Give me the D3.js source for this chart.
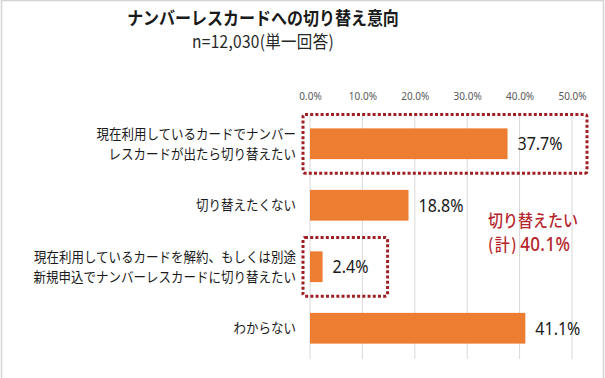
<!DOCTYPE html>
<html><head><meta charset="utf-8">
<script src="https://cdn.jsdelivr.net/npm/d3@7"></script>
<style>body{margin:0;background:#fff;}svg{display:block;font-family:"Noto Sans CJK JP","Noto Sans",sans-serif;}</style>
</head><body>
<svg id="c" width="605" height="378"></svg>
<script>
const title = "ナンバーレスカードへの切り替え意向";
const subtitle = "n=12,030(単一回答)";
const categories = [
  ["現在利用しているカードでナンバー","レスカードが出たら切り替えたい"],
  ["切り替えたくない"],
  ["現在利用しているカードを解約、もしくは別途","新規申込でナンバーレスカードに切り替えたい"],
  ["わからない"]
];
const values = [37.7, 18.8, 2.4, 41.1];
const ticks = [0, 10, 20, 30, 40, 50];
const annotationLine1 = "切り替えたい";
const annotationPrefix = "(計)";
const annotationValue = "40.1%";

const S = 1.12; // vertical glyph stretch seen in the reference
function stretch(sel, cy){ sel.attr("transform",`translate(0,${cy*(1-S)}) scale(1,${S})`); return sel; }

const svg = d3.select("#c");
svg.append("rect").attr("x",1.5).attr("y",0.5).attr("width",602).attr("height",390)
  .attr("fill","none").attr("stroke","#d4d4d4").attr("stroke-width",1.5);

const x = d3.scaleLinear().domain([0,50]).range([310,572]);
const y = d3.scaleBand().domain(d3.range(categories.length)).range([113,359]).paddingInner(0.5).paddingOuter(0.25);

stretch(svg.append("text").attr("x",263).attr("y",24).attr("text-anchor","middle")
  .attr("font-size",16).attr("font-weight","bold").attr("fill","#1a1a1a").text(title), 18);
stretch(svg.append("text").attr("x",263).attr("y",47).attr("text-anchor","middle")
  .attr("font-size",15.5).attr("letter-spacing",0.3).attr("fill","#262626").text(subtitle), 42);

// gridlines
svg.append("g").selectAll("line").data(ticks).join("line")
  .attr("x1",d=>x(d)).attr("x2",d=>x(d)).attr("y1",113).attr("y2",359)
  .attr("stroke","#d9d9d9").attr("stroke-width",1);

// top axis labels
const ax = svg.append("g").attr("transform","translate(0,100)")
  .call(d3.axisTop(x).tickValues(ticks).tickFormat(d=>d.toFixed(1)+"%").tickSize(0).tickPadding(0));
ax.select(".domain").remove();
ax.selectAll("text").attr("font-size",10).attr("fill","#595959").attr("font-family","\"Noto Sans\",sans-serif");

// bars
svg.append("g").selectAll("rect").data(values).join("rect")
  .attr("x",x(0)).attr("y",(d,i)=>y(i)).attr("width",d=>x(d)-x(0)).attr("height",y.bandwidth())
  .attr("fill","#ed7d31");

// value labels
svg.append("g").selectAll("text").data(values).join("text")
  .attr("x",d=>x(d)+10).attr("y",(d,i)=>y(i)+y.bandwidth()/2).attr("dy","0.36em")
  .attr("font-size",16).attr("fill","#1a1a1a").attr("font-family","\"Noto Sans\",sans-serif")
  .text(d=>d.toFixed(1)+"%")
  .each(function(d,i){ stretch(d3.select(this), y(i)+y.bandwidth()/2); });

// category labels
const cl = svg.append("g").selectAll("text").data(categories).join("text")
  .attr("text-anchor","end").attr("font-size",12.5).attr("fill","#1a1a1a");
cl.each(function(lines,i){
  const t = d3.select(this);
  const cy = y(i)+y.bandwidth()/2;
  const lh = 18;
  lines.forEach((s,j)=>{
    t.append("tspan").attr("x",296).attr("y",cy + (j-(lines.length-1)/2)*lh).attr("dy","0.36em").text(s);
  });
  stretch(t, cy);
});

// dotted boxes
const boxColor = "#9e1f24";
const pad = 14;
svg.append("rect").attr("x",x(0)-7).attr("y",y(0)-pad).attr("width",x(50)+15-(x(0)-7)).attr("height",y.bandwidth()+2*pad)
  .attr("rx",2).attr("fill","none").attr("stroke",boxColor).attr("stroke-width",3).attr("stroke-dasharray","3,2.2");
svg.append("rect").attr("x",x(0)-7).attr("y",y(2)-pad).attr("width",x(values[2])+65-(x(0)-7)).attr("height",y.bandwidth()+2*pad)
  .attr("rx",2).attr("fill","none").attr("stroke",boxColor).attr("stroke-width",3).attr("stroke-dasharray","3,2.2");

// annotation
const annColor = "#b5252b";
stretch(svg.append("text").attr("x",488).attr("y",221).attr("dy","0.36em")
  .attr("font-size",15).attr("font-weight","500").attr("fill",annColor).text(annotationLine1), 221);
const a2 = svg.append("text").attr("x",488).attr("y",245).attr("dy","0.36em")
  .attr("font-weight","500").attr("fill",annColor);
a2.append("tspan").attr("font-size",15).attr("letter-spacing",1.5).text(annotationPrefix);
a2.append("tspan").attr("font-size",17).attr("dx",2).attr("letter-spacing",0.4)
  .attr("font-family","\"Noto Sans\",sans-serif").text(annotationValue);
stretch(a2, 245);
</script>
</body></html>
